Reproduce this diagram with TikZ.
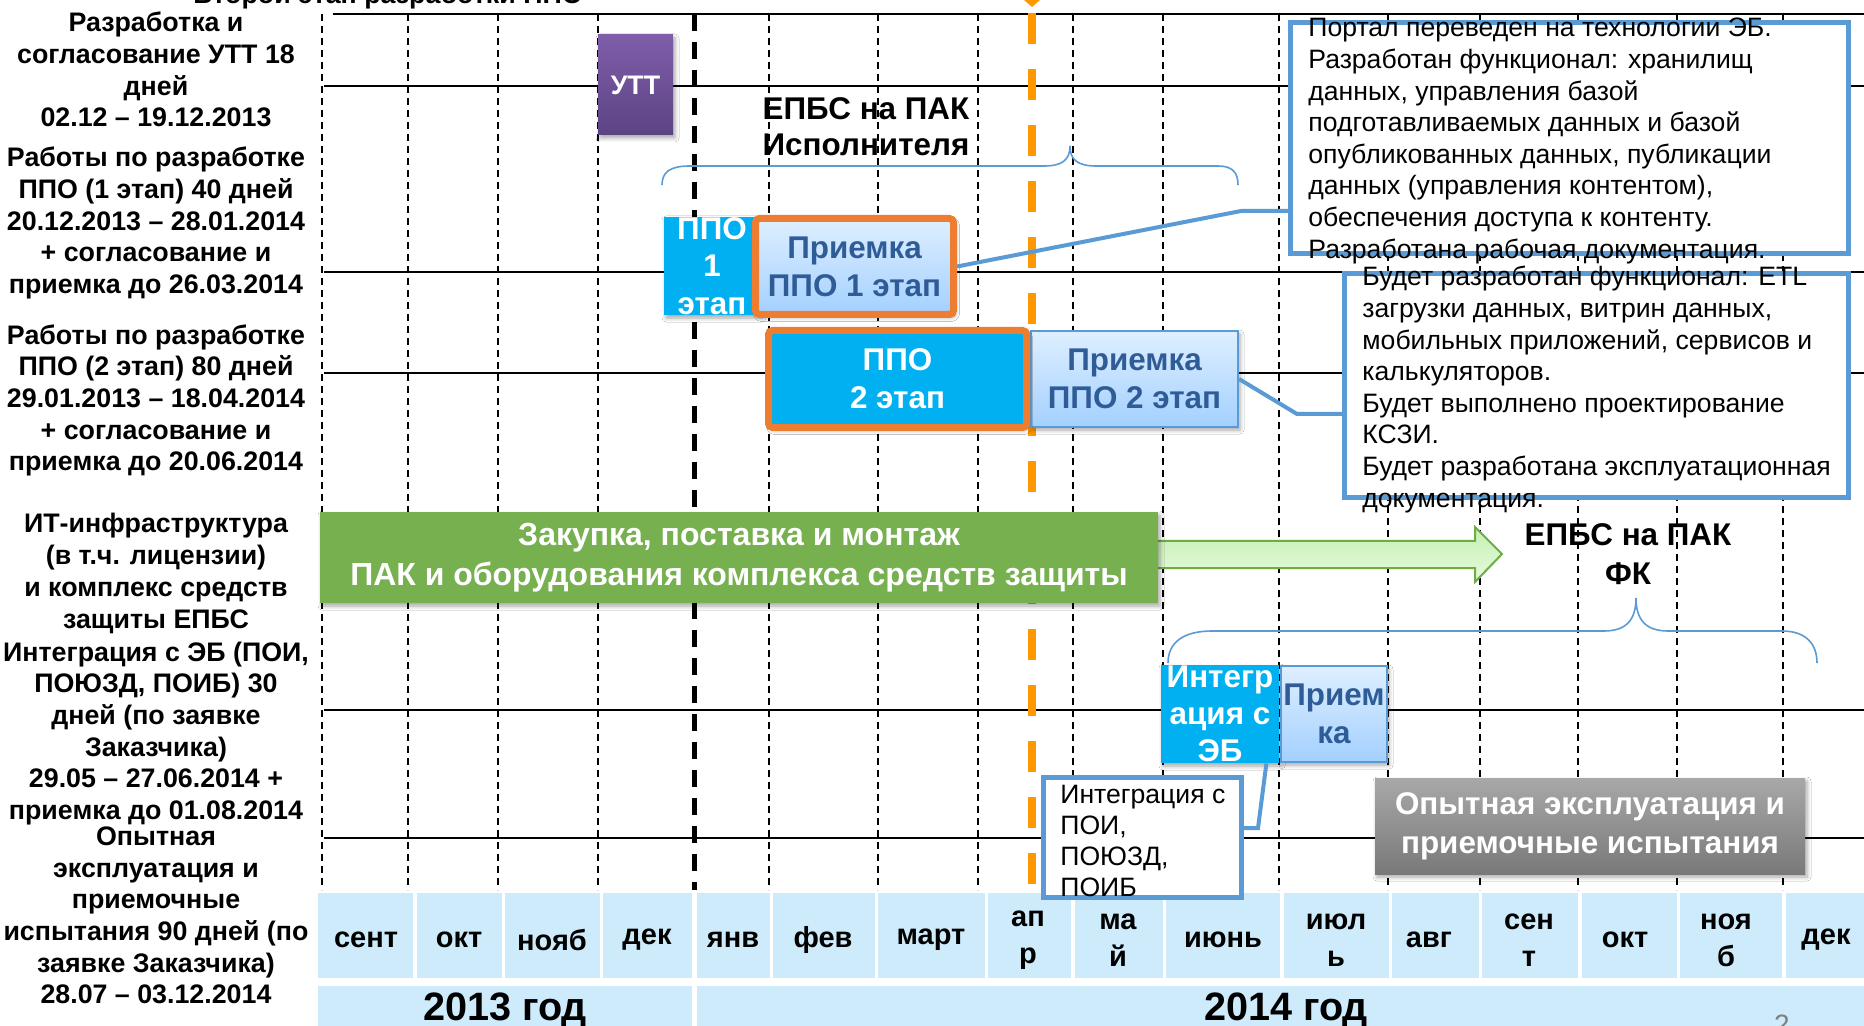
\documentclass[tikz,border=0pt]{standalone}
\usepackage{fontspec}
\setmainfont{Liberation Sans}
\usetikzlibrary{shadows.blur}

\definecolor{ppocyan}{HTML}{00B0F0}
\definecolor{ppoorange}{HTML}{ED7D31}
\definecolor{linkblue}{HTML}{5B9BD5}
\definecolor{prtext}{HTML}{2F5C97}
\definecolor{prtop}{HTML}{DEEFFF}
\definecolor{prbot}{HTML}{A3D0FF}
\definecolor{buygreen}{HTML}{77B04F}
\definecolor{arrowtop}{HTML}{C6EFB4}
\definecolor{arrowbot}{HTML}{E6FADC}
\definecolor{arrowline}{HTML}{6CAE42}
\definecolor{uttop}{HTML}{7F5DA9}
\definecolor{utbot}{HTML}{5C4484}
\definecolor{optop}{HTML}{A8A8A8}
\definecolor{opbot}{HTML}{797979}
\definecolor{cellblue}{HTML}{CDEBFB}
\definecolor{nowline}{HTML}{FF9800}

\begin{document}
\begin{tikzpicture}[x=0.5pt,y=-0.5pt,
   lab/.style={font=\bfseries\fontsize{13.4pt}{15.85pt}\selectfont,align=center,inner sep=0pt},
   memo/.style={font=\fontsize{13.3pt}{15.8pt}\selectfont,align=left,inner sep=0pt},
   mon/.style={font=\bfseries\fontsize{14.5pt}{18.5pt}\selectfont,align=center,inner sep=0pt},
   big/.style={font=\bfseries\fontsize{15.7pt}{19pt}\selectfont,align=center,inner sep=0pt},
   grid/.style={line width=0.8pt,dash pattern=on 3.5pt off 2.5pt},
   row/.style={line width=0.9pt},
   soft/.style={blur shadow={shadow xshift=1pt,shadow yshift=-1.5pt,shadow blur radius=2pt,shadow opacity=35}},
   ppo/.style={big,fill=ppocyan,text=white},
   accept/.style={big,top color=prtop,bottom color=prbot,text=prtext},
   note/.style={draw=linkblue,fill=white,line width=2.5pt,inner sep=0pt},
   link/.style={draw=linkblue,line width=2pt},
   brace/.style={draw=linkblue,line width=0.8pt}]
   \useasboundingbox (0,0) rectangle (1864,1026);
   \fill[white] (0,0) rectangle (1864,1026);

   % rows
   \draw[row] (333,14) -- (1864,14);
   \draw[row] (324,86) -- (1864,86);
   \draw[row] (324,272) -- (1864,272);
   \draw[row] (324,373) -- (1864,373);
   \draw[row] (324,710) -- (1864,710);
   \draw[row] (324,838) -- (1864,838);

   % months
   \draw[grid] (322,14) -- (322,890);
   \draw[grid] (408,14) -- (408,890);
   \draw[grid] (498,14) -- (498,890);
   \draw[grid] (598,14) -- (598,890);
   \draw[line width=2.5pt,dash pattern=on 8.5pt off 5.5pt] (694,14) -- (694,890);
   \draw[grid] (769,14) -- (769,890);
   \draw[grid] (878,14) -- (878,890);
   \draw[grid] (978,14) -- (978,890);
   \draw[grid] (1073,14) -- (1073,890);
   \draw[grid] (1163,14) -- (1163,890);
   \draw[grid] (1279,14) -- (1279,890);
   \draw[grid] (1388,14) -- (1388,890);
   \draw[grid] (1480,14) -- (1480,890);
   \draw[grid] (1578,14) -- (1578,890);
   \draw[grid] (1677,14) -- (1677,890);
   \draw[grid] (1783,14) -- (1783,890);

   % today
   \fill[nowline] (1024,0) -- (1040,0) -- (1032,7) -- cycle;
   \draw[nowline,line width=4pt,dash pattern=on 15.5pt off 12.5pt] (1032,13) -- (1032,890);

   % calendar
   \fill[cellblue] (318,893) rectangle (413,978);
   \fill[cellblue] (417,893) rectangle (502,978);
   \fill[cellblue] (505,893) rectangle (600,978);
   \fill[cellblue] (603,893) rectangle (692,978);
   \fill[cellblue] (697,893) rectangle (770,978);
   \fill[cellblue] (773,893) rectangle (875,978);
   \fill[cellblue] (878,893) rectangle (985,978);
   \fill[cellblue] (988,893) rectangle (1071,978);
   \fill[cellblue] (1075,893) rectangle (1163,978);
   \fill[cellblue] (1166,893) rectangle (1280,978);
   \fill[cellblue] (1284,893) rectangle (1389,978);
   \fill[cellblue] (1392,893) rectangle (1479,978);
   \fill[cellblue] (1482,893) rectangle (1578,978);
   \fill[cellblue] (1582,893) rectangle (1677,978);
   \fill[cellblue] (1680,893) rectangle (1782,978);
   \fill[cellblue] (1786,893) rectangle (1864,978);
   \fill[cellblue] (318,986) rectangle (692,1026);
   \fill[cellblue] (697,986) rectangle (1864,1026);

   \node[mon] (sep13) at (366,940) {сент};
   \node[mon] (oct13) at (459,940) {окт};
   \node[mon] (nov13) at (552,940) {нояб};
   \node[mon] (dec13) at (647,940) {дек};
   \node[mon] (jan) at (733,940) {янв};
   \node[mon] (feb) at (823,940) {фев};
   \node[mon] (mar) at (931,940) {март};
   \node[mon] (apr) at (1028,940) {ап\\р};
   \node[mon] (may) at (1118,940) {ма\\й};
   \node[mon] (jun) at (1223,940) {июнь};
   \node[mon] (jul) at (1336,940) {июл\\ь};
   \node[mon] (aug) at (1429,940) {авг};
   \node[mon] (sep14) at (1529,940) {сен\\т};
   \node[mon] (oct14) at (1625,940) {окт};
   \node[mon] (nov14) at (1726,940) {ноя\\б};
   \node[mon] (dec14) at (1826,940) {дек};
   \node[font=\bfseries\fontsize{19.8pt}{21pt}\selectfont,anchor=base] (y13) at (505,1020) {2013 год};
   \node[font=\bfseries\fontsize{19.8pt}{21pt}\selectfont,anchor=base] (y14) at (1286,1020) {2014 год};
   \node[text=gray,font=\fontsize{14pt}{14pt}\selectfont,anchor=north] (pg) at (1782,1008) {2};

   \node[lab,anchor=base] (stage) at (388,4) {Второй этап разработки ППО};
   \node[lab] (labutt) at (156,69.5) {Разработка и\\согласование УТТ 18\\дней\\02.12 – 19.12.2013};
   \node[lab] (labppoA) at (156,223) {Работы по разработке\\ППО (1 этап) 40 дней\\20.12.2013 – 28.01.2014\\+ согласование и\\приемка до 26.03.2014};
   \node[lab] (labppoB) at (156,400.5) {Работы по разработке\\ППО (2 этап) 80 дней\\29.01.2013 – 18.04.2014\\+ согласование и\\приемка до 20.06.2014};
   \node[lab] (labit) at (156,573.5) {ИТ-инфраструктура\\(в т.ч. лицензии)\\и комплекс средств\\защиты ЕПБС};
   \node[lab] (labeb) at (156,733.5) {Интеграция с ЭБ (ПОИ,\\ПОЮЗД, ПОИБ) 30\\дней (по заявке\\Заказчика)\\29.05 – 27.06.2014 +\\приемка до 01.08.2014};
   \node[lab] (labtrial) at (156,915.5) {Опытная\\эксплуатация и\\приемочные\\испытания 90 дней (по\\заявке Заказчика)\\28.07 – 03.12.2014};

   % braces
   \draw[brace] (662,185) .. controls (662,172) and (670,166) .. (690,166) -- (1044,166)
      .. controls (1062,166) and (1070,160) .. (1070,146) .. controls (1070,160) and (1078,166) .. (1096,166)
      -- (1218,166) .. controls (1232,166) and (1238,172) .. (1238,185);
   \draw[brace] (1168,663) .. controls (1168,642) and (1184,631) .. (1212,631) -- (1604,631)
      .. controls (1626,631) and (1636,620) .. (1636,598) .. controls (1636,620) and (1646,631) .. (1668,631)
      -- (1782,631) .. controls (1806,631) and (1817,644) .. (1817,663);
   \node[big,font=\bfseries\fontsize{15.7pt}{18pt}\selectfont] (pakA) at (866,127) {ЕПБС на ПАК\\Исполнителя};
   \node[big,font=\bfseries\fontsize{15.7pt}{19.5pt}\selectfont] (pakB) at (1628,554) {ЕПБС на ПАК\\ФК};

   % bars
   \node[lab,text=white,top color=uttop,bottom color=utbot,soft,minimum width=37.5pt,minimum height=50pt] (utt) at (635.5,85) {УТТ};
   \node[ppo,soft,minimum width=48pt,minimum height=49pt,font=\bfseries\fontsize{15.7pt}{18.7pt}\selectfont] (ppoA) at (712,266) {ППО\\1\\этап};
   \node[accept,soft,draw=ppoorange,line width=3.5pt,rounded corners=2pt,minimum width=99pt,minimum height=48pt] (prA) at (854.5,266.5) {Приемка\\ППО 1 этап};
   \node[accept,draw=linkblue,line width=1pt,soft,minimum width=103.5pt,minimum height=48pt] (prB) at (1134.5,379) {Приемка\\ППО 2 этап};
   \node[ppo,soft,draw=ppoorange,line width=3.5pt,rounded corners=2pt,minimum width=129pt,minimum height=48.5pt] (ppoB) at (897.5,379) {ППО\\2 этап};

   \draw[arrowline,line width=1pt,top color=arrowtop,bottom color=arrowbot] (1150,541) -- (1475,541) -- (1475,527)
      -- (1502,554) -- (1475,582) -- (1475,568) -- (1150,568) -- cycle;
   \node[big,fill=buygreen,text=white,soft,minimum width=419pt,minimum height=45.5pt,font=\bfseries\fontsize{16pt}{20pt}\selectfont] (buy) at (739,557.5) {Закупка, поставка и монтаж\\ПАК и оборудования комплекса средств защиты};

   \node[ppo,soft,minimum width=59pt,minimum height=49pt,font=\bfseries\fontsize{15.7pt}{18.5pt}\selectfont] (integ) at (1220,714) {Интегр\\ация с\\ЭБ};
   \node[accept,draw=linkblue,line width=1pt,soft,minimum width=53pt,minimum height=48pt] (prC) at (1334,714) {Прием\\ка};
   \node[big,text=white,top color=optop,bottom color=opbot,soft,minimum width=215pt,minimum height=48pt,font=\bfseries\fontsize{15.7pt}{19.5pt}\selectfont] (trial) at (1590,826) {Опытная эксплуатация и\\приемочные испытания};

   % notes
   \node[note,minimum width=279pt,minimum height=115.5pt] (portal) at (1569.5,138) {};
   \node[memo,anchor=west] (portaltxt) at (1308,141) {Портал переведен на технологии ЭБ.\\Разработан функционал: хранилищ\\данных, управления базой\\подготавливаемых данных и базой\\опубликованных данных, публикации\\данных (управления контентом),\\обеспечения доступа к контенту.\\Разработана рабочая документация.};
   \node[note,minimum width=252pt,minimum height=112pt] (plan) at (1596.5,385.5) {};
   \node[memo,anchor=west] (plantxt) at (1362,389.5) {Будет разработан функционал: ETL\\загрузки данных, витрин данных,\\мобильных приложений, сервисов и\\калькуляторов.\\Будет выполнено проектирование\\КСЗИ.\\Будет разработана эксплуатационная\\документация.};
   \node[note,minimum width=99pt,minimum height=60pt] (poi) at (1142.5,837.5) {};
   \node[memo,anchor=west,font=\fontsize{13.3pt}{15.5pt}\selectfont] (poitxt) at (1060,840.5) {Интеграция с\\ПОИ,\\ПОЮЗД,\\ПОИБ};

   \coordinate (kA) at (1241,211);
   \coordinate (kB) at (1297,414);
   \coordinate (kC) at (1258,828);
   \draw[link] (prA.east) -- (kA) -- (kA -| portal.west);
   \draw[link] (prB.east) -- (kB) -- (kB -| plan.west);
   \draw[link] (integ.south east) ++(-13,0) -- (kC) -- (kC -| poi.east);
\end{tikzpicture}
\end{document}
